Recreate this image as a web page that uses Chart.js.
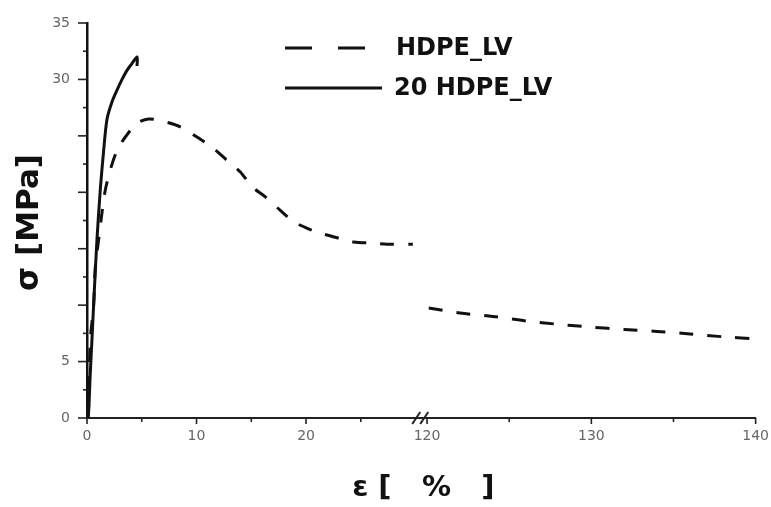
<!DOCTYPE html>
<html>
<head>
<meta charset="utf-8">
<script src="https://cdn.jsdelivr.net/npm/chart.js@4/dist/chart.umd.min.js"></script>
<style>
  body { margin: 0; background: #fff; }
  canvas { display: block; }
</style>
</head>
<body>
<canvas id="stressStrain" width="771" height="507"></canvas>
<script>
// HDPE_LV, first part of the curve (strain %, stress MPa)
const neatStrainA = [0, 0.15, 0.3, 0.6, 0.76, 1.06, 1.37, 1.67, 2.13, 2.74, 3.5, 4.57, 5.63, 7.3, 8.52,
  10.19, 11.42, 12.93, 14.0, 15.07, 16.28, 17.65, 18.87, 20.39, 21.6, 23.13, 24.35, 26.03, 27.4, 29.75];
const neatStressA = [0, 1.0, 6.9, 9.9, 13.4, 15.8, 18.2, 20.2, 22.0, 23.7, 24.9, 26.1, 26.5, 26.2, 25.8,
  24.8, 24.0, 22.7, 21.8, 20.5, 19.6, 18.4, 17.4, 16.7, 16.3, 15.9, 15.6, 15.5, 15.4, 15.4];
// HDPE_LV, after the axis break
const neatStrainB = [120.1, 122, 124, 126, 128, 130, 132, 134, 136, 138, 139.8];
const neatStressB = [9.75, 9.3, 9.0, 8.6, 8.3, 8.05, 7.85, 7.67, 7.45, 7.2, 7.03];
// 20 HDPE_LV
const filledStrain = [0, 0.12, 0.3, 0.45, 0.67, 0.91, 1.21, 1.52, 1.83, 2.28, 2.74, 3.2, 3.65, 4.1, 4.57, 4.57];
const filledStress = [0, 0.1, 4.0, 6.9, 11.3, 15.8, 20.2, 23.7, 26.5, 28.0, 29.05, 30.0, 30.8, 31.4, 32.0, 31.2];

const seriesNames = ["HDPE_LV", "20 HDPE_LV"];
const xTickValues = [0, 5, 10, 15, 20, 25, 120, 125, 130, 135, 140];
const xTickLabels = ["0", "", "10", "", "20", "", "120", "", "130", "", "140"];
const yTickLabels = { 0: "0", 5: "5", 30: "30", 35: "35" };

// broken strain axis: 0..LEFT_MAX as is, then 120..140 stretched after a small gap
const LEFT_MAX = 29.8;
const RIGHT_START = 120;
const RIGHT_OFFSET = 31.05;
const RIGHT_STRETCH = 1.5;
function toAxis(x) {
  return x <= LEFT_MAX ? x : RIGHT_OFFSET + (x - RIGHT_START) * RIGHT_STRETCH;
}
function pairs(xs, ys) {
  return xs.map((x, i) => ({ x: toAxis(x), y: ys[i] }));
}

const neatData = pairs(neatStrainA, neatStressA)
  .concat([{ x: (LEFT_MAX + RIGHT_OFFSET) / 2, y: null }])
  .concat(pairs(neatStrainB, neatStressB));

const legendSpots = [
  { x0: 285, x1: 368, y: 48, tx: 396, dash: [27, 26] },
  { x0: 285, x1: 382, y: 88, tx: 394, dash: [] }
];

const axisExtras = {
  id: "axisExtras",
  afterDraw(chart) {
    const ctx = chart.ctx;
    const xs = chart.scales.x, ys = chart.scales.y;
    const area = chart.chartArea;
    ctx.save();
    ctx.strokeStyle = "#222";
    ctx.lineWidth = 1.6;
    // tick marks, long on labelled values
    ys.ticks.forEach(t => {
      const py = ys.getPixelForValue(t.value);
      const len = t.value % 5 === 0 ? 9 : 4;
      ctx.beginPath();
      ctx.moveTo(area.left - len, py);
      ctx.lineTo(area.left, py);
      ctx.stroke();
    });
    xs.ticks.forEach((t, i) => {
      const px = xs.getPixelForValue(t.value);
      const len = xTickLabels[i] ? 6 : 4;
      ctx.beginPath();
      ctx.moveTo(px, area.bottom);
      ctx.lineTo(px, area.bottom + len);
      ctx.stroke();
    });
    // break marks
    const bx = xs.getPixelForValue((LEFT_MAX + RIGHT_OFFSET) / 2);
    ctx.lineWidth = 2;
    [-4, 4].forEach(dx => {
      ctx.beginPath();
      ctx.moveTo(bx + dx - 4, area.bottom + 6);
      ctx.lineTo(bx + dx + 4, area.bottom - 6);
      ctx.stroke();
    });

    // axis titles
    ctx.fillStyle = "#111";
    ctx.textAlign = "center";
    ctx.textBaseline = "middle";
    ctx.font = "bold 31px 'DejaVu Sans'";
    ctx.save();
    ctx.translate(30, (area.top + area.bottom) / 2 + 2);
    ctx.rotate(-Math.PI / 2);
    ctx.fillText("σ [MPa]", 0, 0);
    ctx.restore();
    ctx.font = "bold 29px 'DejaVu Sans'";
    ctx.fillText("ε [   %   ]", (area.left + area.right) / 2 + 2, 488);

    // legend
    ctx.textAlign = "left";
    ctx.font = "bold 24px 'DejaVu Sans'";
    chart.data.datasets.forEach((ds, i) => {
      const s = legendSpots[i];
      ctx.strokeStyle = ds.borderColor;
      ctx.lineWidth = 3.2;
      ctx.setLineDash(s.dash);
      ctx.beginPath();
      ctx.moveTo(s.x0, s.y);
      ctx.lineTo(s.x1, s.y);
      ctx.stroke();
      ctx.setLineDash([]);
      ctx.fillStyle = "#111";
      ctx.fillText(ds.label, s.tx, s.y + 1);
    });
    ctx.restore();
  }
};

new Chart(document.getElementById("stressStrain").getContext("2d"), {
  type: "line",
  data: {
    datasets: [
      {
        label: seriesNames[0],
        data: neatData,
        borderColor: "#111",
        borderWidth: 3,
        borderDash: [14, 14],
        pointRadius: 0,
        tension: 0.3,
        spanGaps: false
      },
      {
        label: seriesNames[1],
        data: pairs(filledStrain, filledStress),
        borderColor: "#111",
        borderWidth: 3,
        pointRadius: 0,
        tension: 0.3
      }
    ]
  },
  options: {
    responsive: false,
    animation: false,
    layout: { padding: { left: 0, right: 9, top: 23, bottom: 0 } },
    plugins: { legend: { display: false }, tooltip: { enabled: false } },
    scales: {
      x: {
        type: "linear",
        min: 0,
        max: toAxis(140),
        afterBuildTicks: scale => {
          scale.ticks = xTickValues.map(v => ({ value: toAxis(v) }));
        },
        afterFit: scale => { scale.height = 89; },
        grid: { display: false },
        border: { display: true, color: "#222", width: 2 },
        ticks: {
          autoSkip: false,
          maxRotation: 0,
          padding: 2,
          color: "#666",
          font: { family: "DejaVu Sans", size: 14 },
          callback: (v, i) => xTickLabels[i]
        }
      },
      y: {
        min: 0,
        max: 35,
        afterFit: scale => { scale.width = 87; },
        grid: { display: false },
        border: { display: true, color: "#111", width: 2.5 },
        ticks: {
          stepSize: 2.5,
          autoSkip: false,
          padding: 9,
          color: "#666",
          font: { family: "DejaVu Sans", size: 14 },
          callback: v => yTickLabels[v] || ""
        }
      }
    }
  },
  plugins: [axisExtras]
});
</script>
</body>
</html>
